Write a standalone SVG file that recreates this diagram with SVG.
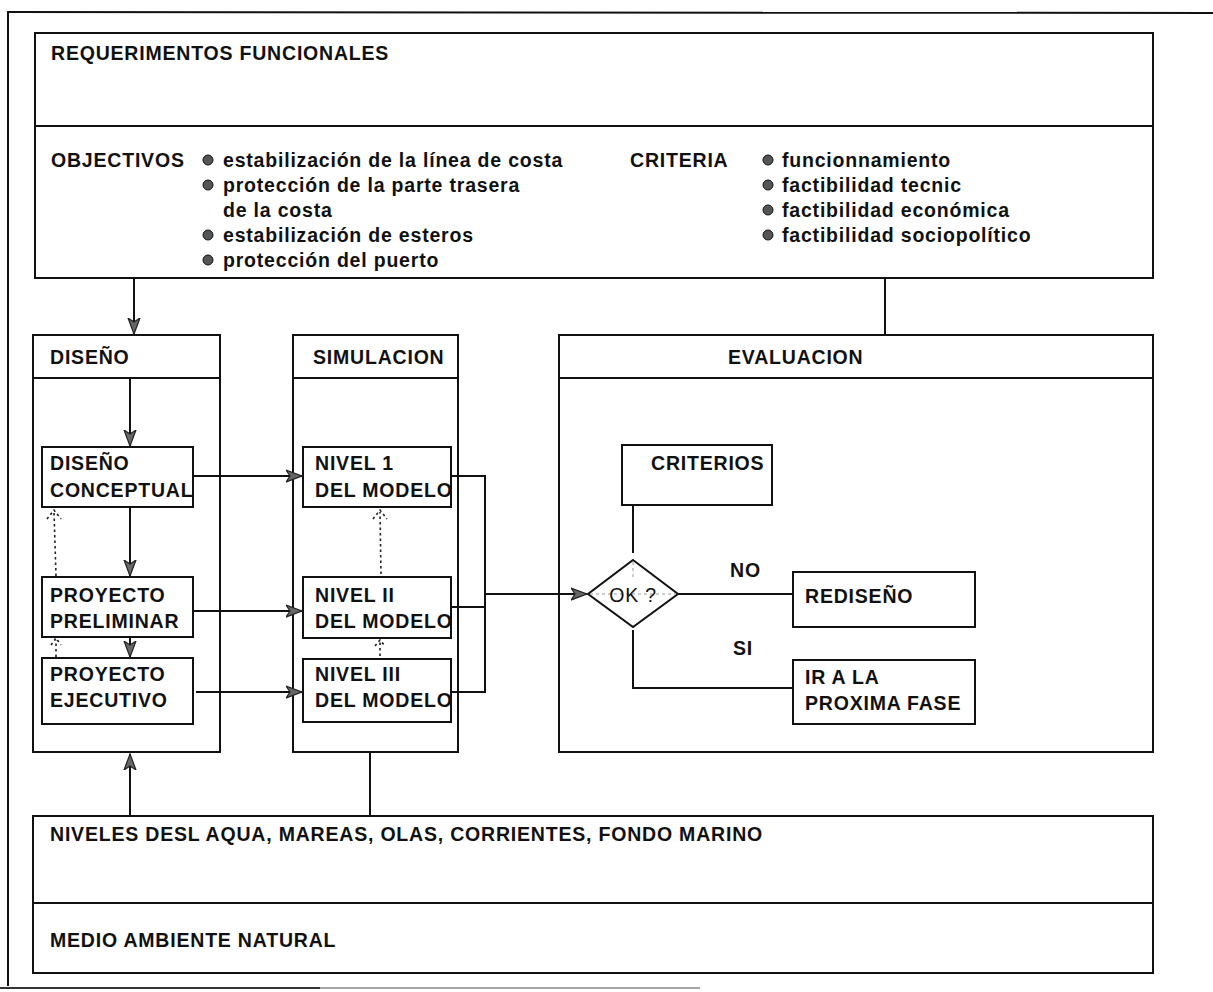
<svg xmlns="http://www.w3.org/2000/svg" width="1213" height="992" viewBox="0 0 1213 992">
  <style>
    .frame { fill: none; stroke: #111; stroke-width: 2; }
    .box { fill: #fff; stroke: #111; stroke-width: 2; }
    .ln { fill: none; stroke: #111; stroke-width: 2; }
    .dot { fill: none; stroke: #222; stroke-width: 1.6; stroke-dasharray: 2.5 3; }
    .guide { fill: none; stroke: #999; stroke-width: 1; stroke-dasharray: 3 3; }
    text { font-family: "Liberation Sans", Arial, sans-serif; font-size: 19.5px; font-weight: bold; fill: #111; letter-spacing: 0.8px; }
    .bul { fill: #555; stroke: #111; stroke-width: 1; }
  </style>
  <defs>
    <marker id="arr" markerUnits="userSpaceOnUse" markerWidth="18" markerHeight="14" refX="16" refY="7" orient="auto">
      <path d="M0,1 L16,7 L0,13 L4,7 Z" fill="#666" stroke="#222" stroke-width="1.2"/>
    </marker>
  </defs>

  <rect width="1213" height="992" fill="#fff"/>

  <!-- page frame -->
  <g id="frame">
    <line class="frame" x1="8" y1="11" x2="8" y2="986"/>
    <line class="frame" x1="7" y1="12" x2="1213" y2="13"/>
    <line x1="0" y1="988" x2="320" y2="988" stroke="#333" stroke-width="2"/>
    <line x1="320" y1="988" x2="700" y2="988" stroke="#888" stroke-width="1.5"/>
  </g>

  <!-- functional requirements -->
  <g id="requerimientos">
    <rect class="box" x="35" y="33" width="1118" height="245"/>
    <line class="ln" x1="35" y1="126" x2="1153" y2="126"/>
    <text x="51" y="60">REQUERIMENTOS FUNCIONALES</text>
    <text x="51" y="167">OBJECTIVOS</text>
    <circle class="bul" cx="208" cy="160" r="5"/>
    <circle class="bul" cx="208" cy="185" r="5"/>
    <circle class="bul" cx="208" cy="235" r="5"/>
    <circle class="bul" cx="208" cy="260" r="5"/>
    <text x="223" y="167">estabilización de la línea de costa</text>
    <text x="223" y="192">protección de la parte trasera</text>
    <text x="223" y="217">de la costa</text>
    <text x="223" y="242">estabilización de esteros</text>
    <text x="223" y="267">protección del puerto</text>
    <text x="630" y="167">CRITERIA</text>
    <circle class="bul" cx="768" cy="160" r="5"/>
    <circle class="bul" cx="768" cy="185" r="5"/>
    <circle class="bul" cx="768" cy="210" r="5"/>
    <circle class="bul" cx="768" cy="235" r="5"/>
    <text x="782" y="167">funcionnamiento</text>
    <text x="782" y="192">factibilidad tecnic</text>
    <text x="782" y="217">factibilidad económica</text>
    <text x="782" y="242">factibilidad sociopolítico</text>
  </g>

  <!-- design column -->
  <g id="diseno">
    <rect class="box" x="33" y="335" width="187" height="417"/>
    <line class="ln" x1="33" y1="378" x2="220" y2="378"/>
    <text x="50" y="364">DISEÑO</text>
  </g>
  <g id="diseno-conceptual">
    <rect class="box" x="42" y="447" width="151" height="60"/>
    <text x="50" y="470">DISEÑO</text>
    <text x="50" y="497">CONCEPTUAL</text>
  </g>
  <g id="proyecto-preliminar">
    <rect class="box" x="42" y="577" width="151" height="60"/>
    <text x="50" y="602">PROYECTO</text>
    <text x="50" y="628">PRELIMINAR</text>
  </g>
  <g id="proyecto-ejecutivo">
    <rect class="box" x="42" y="658" width="151" height="66"/>
    <text x="50" y="681">PROYECTO</text>
    <text x="50" y="707">EJECUTIVO</text>
  </g>

  <!-- simulation column -->
  <g id="simulacion">
    <rect class="box" x="293" y="335" width="165" height="417"/>
    <line class="ln" x1="293" y1="378" x2="458" y2="378"/>
    <text x="313" y="364">SIMULACION</text>
  </g>
  <g id="nivel-1">
    <rect class="box" x="303" y="447" width="148" height="60"/>
    <text x="315" y="470">NIVEL 1</text>
    <text x="315" y="497">DEL MODELO</text>
  </g>
  <g id="nivel-2">
    <rect class="box" x="303" y="577" width="148" height="61"/>
    <text x="315" y="602">NIVEL II</text>
    <text x="315" y="628">DEL MODELO</text>
  </g>
  <g id="nivel-3">
    <rect class="box" x="303" y="659" width="148" height="63"/>
    <text x="315" y="681">NIVEL III</text>
    <text x="315" y="707">DEL MODELO</text>
  </g>

  <!-- evaluation column -->
  <g id="evaluacion">
    <rect class="box" x="559" y="335" width="594" height="417"/>
    <line class="ln" x1="559" y1="378" x2="1153" y2="378"/>
    <text x="728" y="364">EVALUACION</text>
  </g>
  <g id="criterios">
    <rect class="box" x="622" y="445" width="150" height="60"/>
    <text x="651" y="470">CRITERIOS</text>
  </g>
  <g id="ok">
    <path class="box" d="M633,560 L678,594 L633,627 L588,594 Z"/>
    <line class="guide" x1="590" y1="594" x2="676" y2="594"/>
    <line class="guide" x1="633" y1="562" x2="633" y2="578"/>
    <text x="633" y="602" text-anchor="middle" style="font-weight:normal">OK ?</text>
  </g>
  <g id="rediseno">
    <rect class="box" x="793" y="572" width="182" height="55"/>
    <text x="805" y="603">REDISEÑO</text>
  </g>
  <g id="proxima-fase">
    <rect class="box" x="793" y="660" width="182" height="64"/>
    <text x="805" y="684">IR A LA</text>
    <text x="805" y="710">PROXIMA FASE</text>
  </g>
  <g id="labels">
    <text x="730" y="577">NO</text>
    <text x="733" y="655">SI</text>
  </g>

  <!-- natural environment -->
  <g id="medio-ambiente">
    <rect class="box" x="33" y="816" width="1120" height="157"/>
    <line class="ln" x1="33" y1="903" x2="1153" y2="903"/>
    <text x="50" y="841">NIVELES DESL AQUA, MAREAS, OLAS, CORRIENTES, FONDO MARINO</text>
    <text x="50" y="947">MEDIO AMBIENTE NATURAL</text>
  </g>

  <!-- connectors -->
  <g id="connectors">
    <line class="ln" x1="134" y1="278" x2="134" y2="334" marker-end="url(#arr)"/>
    <line class="ln" x1="885" y1="278" x2="885" y2="334"/>
    <line class="ln" x1="130" y1="378" x2="130" y2="446" marker-end="url(#arr)"/>
    <line class="ln" x1="130" y1="507" x2="130" y2="576" marker-end="url(#arr)"/>
    <line class="ln" x1="130" y1="637" x2="130" y2="657" marker-end="url(#arr)"/>
    <line class="ln" x1="193" y1="476" x2="302" y2="476" marker-end="url(#arr)"/>
    <line class="ln" x1="193" y1="611" x2="302" y2="611" marker-end="url(#arr)"/>
    <line class="ln" x1="196" y1="692" x2="302" y2="692" marker-end="url(#arr)"/>
    <path class="ln" d="M451,476 H485 V692 H451"/>
    <line class="ln" x1="451" y1="607" x2="485" y2="607"/>
    <line class="ln" x1="485" y1="594" x2="587" y2="594" marker-end="url(#arr)"/>
    <line class="ln" x1="633" y1="505" x2="633" y2="553"/>
    <line class="ln" x1="678" y1="594" x2="793" y2="594"/>
    <path class="ln" d="M633,630 V688 H793"/>
    <line class="ln" x1="130" y1="816" x2="130" y2="754" marker-end="url(#arr)"/>
    <line class="ln" x1="370" y1="816" x2="370" y2="752"/>
    <!-- dotted feedback arrows -->
    <line class="dot" x1="56" y1="576" x2="54" y2="512"/>
    <path class="dot" d="M47,519 L54,510 L61,519"/>
    <line class="dot" x1="56" y1="657" x2="56" y2="640"/>
    <path class="dot" d="M51,645 L56,638 L61,645"/>
    <line class="dot" x1="381" y1="574" x2="380" y2="512"/>
    <path class="dot" d="M373,519 L380,510 L387,519"/>
    <line class="dot" x1="380" y1="656" x2="380" y2="641"/>
    <path class="dot" d="M375,646 L380,640 L385,646"/>
  </g>
</svg>
